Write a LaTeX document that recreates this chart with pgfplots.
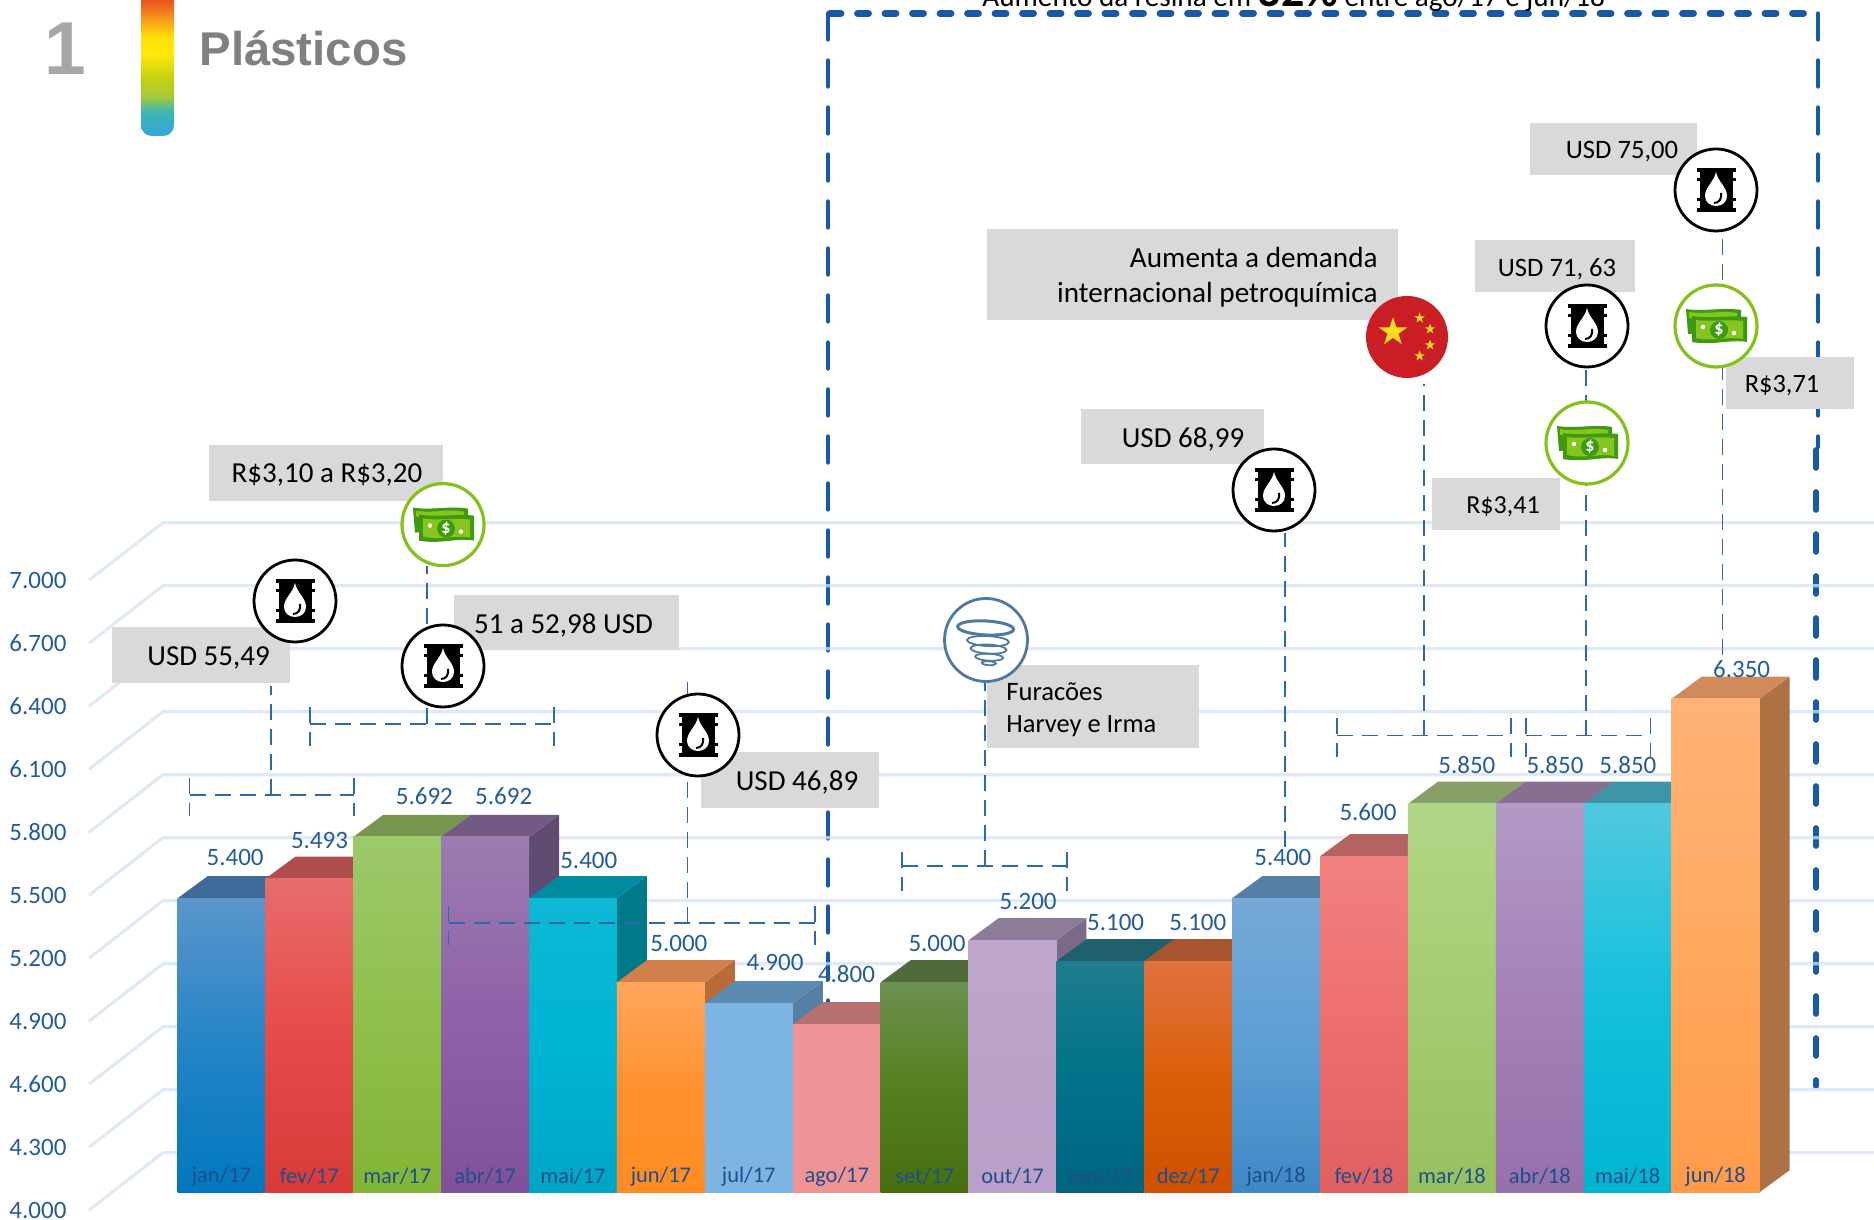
\documentclass[border=0pt]{standalone}
\usepackage{pgfplots}
\pgfplotsset{compat=1.18}
\usepackage{fontspec}
\setmainfont{Carlito}
\newfontfamily\arialf{Liberation Sans}
\usetikzlibrary{shapes.geometric}
\newcommand{\defbar}[6]{%
 \definecolor{c#1t}{HTML}{#2}\definecolor{c#1m}{HTML}{#3}\definecolor{c#1b}{HTML}{#4}%
 \definecolor{c#1f}{HTML}{#5}\definecolor{c#1s}{HTML}{#6}}
\defbar{0}{5A96CC}{2484C6}{0078BF}{3F6B99}{345A80}
\defbar{1}{E76C6C}{E54B49}{D93A38}{AD4D4D}{8F3F3F}
\defbar{2}{9CC96C}{8FC04C}{82B436}{76964F}{607B40}
\defbar{3}{9C7CB0}{8E61A8}{7F5199}{735A85}{604C73}
\defbar{4}{0DB8D4}{00B4D3}{00A5C5}{008CA0}{007A8A}
\defbar{5}{FFA65E}{FF9230}{FF8C21}{D37F4B}{B86A38}
\defbar{6}{7CB5E3}{7CB5E3}{7CB5E3}{5C8AB0}{557FA3}
\defbar{7}{EE9494}{EE9494}{EE9494}{B77070}{9A5E5E}
\defbar{8}{6C9052}{55801F}{466F10}{4E6B39}{425A30}
\defbar{9}{BEA6CC}{BAA2C9}{B8A0C8}{8C7C97}{7A6A88}
\defbar{10}{1E7C8E}{007388}{00647D}{1E616C}{1A545E}
\defbar{11}{E07240}{DA5F09}{CF5000}{A8552E}{904826}
\defbar{12}{76A9D7}{5D9FD5}{3F88C5}{567FA5}{486C8C}
\defbar{13}{F28080}{EE6E6E}{E05F5F}{B56262}{985252}
\defbar{14}{B2D688}{A5CC71}{98BF5F}{889F68}{738759}
\defbar{15}{B29AC5}{A581BA}{9570AA}{866F90}{725E7B}
\defbar{16}{50C9E0}{14C0DC}{00B4D0}{3E95A8}{34808F}
\defbar{17}{FFB377}{FFA95F}{FF9A4A}{D18A5C}{AD7145}
\definecolor{gridb}{HTML}{D5E3F3}
\definecolor{lblb}{HTML}{245C9A}
\definecolor{catb}{HTML}{1F4E8C}
\definecolor{bigdash}{HTML}{1559A8}
\definecolor{thindash}{HTML}{2E69B0}
\definecolor{grayb}{HTML}{D9D9D9}
\definecolor{moneyc}{HTML}{84C21A}
\definecolor{nted}{HTML}{3F9A12}
\definecolor{ntel}{HTML}{84C61E}
\definecolor{torn}{HTML}{4C7AA1}
\definecolor{chinar}{HTML}{C91E24}
\definecolor{chinay}{HTML}{FBDC1E}
\newcommand{\valfont}{\fontsize{12.5}{14}\selectfont}
\newcommand{\annfont}{\fontsize{14.5}{17}\selectfont}
% #1 id, #2 x centre, #3 value, #4 #5 label shift
\newcommand{\Bar}[5]{%
 \pgfmathsetmacro\xl{#2-43.95}\pgfmathsetmacro\xr{#2+43.95}%
 \pgfmathsetmacro\xL{#2-43.95+30}\pgfmathsetmacro\xR{#2+43.95+30}%
 \pgfmathsetmacro\vt{#3+105}\pgfmathsetmacro\bt{4000+105}%
 \addplot[draw=none,fill=c#1s,forget plot] coordinates {(\xr,4000) (\xR,\bt) (\xR,\vt) (\xr,#3)} -- cycle;
 \addplot[draw=none,fill=c#1f,forget plot] coordinates {(\xl,#3) (\xr,#3) (\xR,\vt) (\xL,\vt)} -- cycle;
 \addplot[ybar,bar shift=0pt,bar width=43.95pt,draw=none,top color=c#1t,bottom color=c#1b,middle color=c#1m,forget plot,
   nodes near coords,nodes near coords style={anchor=center,xshift=#4pt,yshift=#5pt,yshift=.6pt,text=lblb,font=\valfont}]
   coordinates {(#2,#3)};
}
\newcommand{\Grid}[1]{%
 \pgfmathsetmacro\gf{#1-85.7}\pgfmathsetmacro\gb{#1+188.6}%
 \addplot[gridb,line width=1.6pt,opacity=.75,forget plot] coordinates {(89,\gf) (163,\gb) (1874,\gb)};
}
\newcommand{\oil}[2]{\begin{scope}[shift={(#1,#2)}]
 \draw[black,fill=white,line width=1.4pt] (0,0) circle (41);
 \fill[black] (-19.5,-22) rectangle (19.5,-18);\fill[black] (-19.5,18) rectangle (19.5,22);
 \fill[black] (-16.5,-18) rectangle (16.5,18);
 \foreach \b in {-10,10}{\fill[black] (-19.5,\b-1.5) rectangle (19.5,\b+1.5);}
 \fill[white] (0,-18) .. controls (2,-8) and (11,-3) .. (11,6) .. controls (11,12) and (6,16) .. (0,16) .. controls (-6,16) and (-11,12) .. (-11,6) .. controls (-11,-3) and (-2,-8) .. cycle;
 \draw[black,line width=1pt] (5,3) .. controls (6,9) and (3,13) .. (-2,13);
\end{scope}}
\newcommand{\money}[2]{\begin{scope}[shift={(#1,#2)}]
 \draw[moneyc,fill=white,line width=1.6pt] (0,0) circle (41);
 \fill[nted] (-30,-17) .. controls (-12,-14) and (6,-19) .. (25,-16) -- (25,6) -- (-28,8) -- cycle;
 \fill[ntel] (-27,-14) .. controls (-12,-11) and (6,-16) .. (21,-13) -- (21,-9) -- (-27,-8) -- cycle;
 \fill[nted] (-24,-10) .. controls (-6,-7) and (14,-11) .. (31,-9) -- (31,16) .. controls (14,13) and (-4,20) .. (-24,16) -- cycle;
 \fill[ntel] (-20,-6) .. controls (-6,-4) and (14,-7) .. (27,-5) -- (27,13) .. controls (14,10) and (-4,16) .. (-20,12) -- cycle;
 \fill[nted] (3,4) circle (9);
 \fill[white] (-13,1) circle (2.2);\fill[white] (18,7) circle (2.2);
 \node[text=white,font=\bfseries\fontsize{9}{9}\selectfont,inner sep=0] at (3,4) {\$};
\end{scope}}
\definecolor{rbA}{HTML}{2FA8D8}\definecolor{rbB}{HTML}{40B5B0}\definecolor{rbC}{HTML}{A6C93A}\definecolor{rbD}{HTML}{C8D20F}\definecolor{rbE}{HTML}{FFE80A}\definecolor{rbF}{HTML}{FFE00A}\definecolor{rbG}{HTML}{F79A1B}\definecolor{rbH}{HTML}{E8501F}
\pgfdeclareverticalshading{rainbar}{100bp}{color(0bp)=(rbA);color(25bp)=(rbA);color(34bp)=(rbB);color(39.5bp)=(rbC);color(46.5bp)=(rbD);color(55bp)=(rbE);color(61bp)=(rbF);color(67.5bp)=(rbG);color(75bp)=(rbH);color(100bp)=(rbH)}
\begin{document}
\begin{tikzpicture}[x=1pt,y=1pt]
\path[use as bounding box] (0,0) rectangle (937,610);
% ---- large dashed frame, behind the chart
\begin{scope}[shift={(0,610)},x=.5pt,y=-.5pt]
 \draw[bigdash,line width=3.4pt,dash pattern=on 5.5pt off 8.25pt,line cap=round] (830,13.5) -- (1816,13.5);
 \draw[bigdash,line width=2.2pt,line cap=round,dash pattern=on 13pt off 10.5pt] (828,13.5) -- (828,1020);
 \draw[bigdash,line width=2.2pt,line cap=round,dash pattern=on 13pt off 10.5pt] (1818,13.5) -- (1818,447);
 \draw[bigdash,line width=2.8pt,line cap=round,dash pattern=on 9pt off 12pt] (1816,450) -- (1816,1086);
\end{scope}
\begin{axis}[at={(0,13.2)},anchor=south west,scale only axis,width=937pt,height=596pt,
 xmin=0,xmax=1874,ymin=4000,ymax=9676.19,clip=false,axis on top,
 axis line style={draw=none},tick style={draw=none},major tick length=0pt,
 ytick={4000,4300,4600,4900,5200,5500,5800,6100,6400,6700,7000},
 xtick={221.5,309.3,397.2,485.1,573,660.9,748.8,836.7,924.6,1012.5,1100.4,1188.2,1276.1,1364,1451.9,1539.8,1627.7,1715.6},
 xticklabels={jan/17,fev/17,mar/17,abr/17,mai/17,jun/17,jul/17,ago/17,set/17,out/17,nov/17,dez/17,jan/18,fev/18,mar/18,abr/18,mai/18,jun/18},
 /pgf/number format/.cd,1000 sep={.},fixed,assume math mode=true,/pgfplots/.cd,
 tick label style={font=\valfont},
 y tick label style={anchor=west,xshift=1.2pt,yshift=-9pt,text=lblb},
 x tick label style={anchor=center,yshift=8pt,text=catb,font=\fontsize{11.2}{13}\selectfont},
 tick align=inside,xticklabel shift=0pt,yticklabel shift=0pt,
 xtick pos=bottom,ytick pos=left,
]
\Grid{4000}\Grid{4300}\Grid{4600}\Grid{4900}\Grid{5200}\Grid{5500}\Grid{5800}\Grid{6100}\Grid{6400}\Grid{6700}\Grid{7000}
\Bar{0}{221.5}{5400}{6.8}{20}
\Bar{1}{309.3}{5493}{5.1}{18.5}
\Bar{2}{397.2}{5692}{13.6}{19.8}
\Bar{3}{485.1}{5692}{9.3}{19.8}
\Bar{4}{573}{5400}{7.9}{18.5}
\Bar{5}{660.9}{5000}{9}{19}
\Bar{6}{748.8}{4900}{13.1}{20}
\Bar{7}{836.7}{4800}{4.9}{24.5}
\Bar{8}{924.6}{5000}{6.2}{19}
\Bar{9}{1012.5}{5200}{7.8}{18.7}
\Bar{10}{1100.4}{5100}{7.6}{18.7}
\Bar{11}{1188.2}{5100}{4.8}{18.7}
\Bar{12}{1276.1}{5400}{3.4}{20}
\Bar{13}{1364}{5600}{2}{21.5}
\Bar{14}{1451.9}{5850}{7.5}{19}
\Bar{15}{1539.8}{5850}{7.6}{18.7}
\Bar{16}{1627.7}{5850}{0.1}{19}
\Bar{17}{1715.6}{6350}{13}{14.2}
\end{axis}
% ---- annotations, in pixel coordinates of the reference
\begin{scope}[shift={(0,610)},x=.5pt,y=-.5pt]
 % header
 \shade[shading=rainbar] (141,-1) -- (141,124) .. controls (141,132) and (146,136) .. (152,136) -- (163,136) .. controls (169,136) and (174,132) .. (174,124) -- (174,-1) -- cycle;
 \node[font=\arialf\bfseries\fontsize{37.5}{40}\selectfont,text=black!35,inner sep=0] at (65,49) {1};
 \node[font=\arialf\bfseries\fontsize{23.7}{26}\selectfont,text=black!50,inner sep=0,anchor=west] at (199,48) {Plásticos};
 \node[anchor=base west,inner sep=0,font=\fontsize{14.6}{17}\selectfont,text=black] at (982,6.5) {Aumento da resina em {\bfseries\fontsize{23}{23}\selectfont 32\%} entre ago/17 e jun/18};
 % thin dashed connectors and brackets
 \begin{scope}[thindash,line width=.8pt,dash pattern=on 8pt off 4.5pt]
  \draw (189.5,795) -- (354,795); \draw (189.5,778) -- (189.5,816); \draw (354,778) -- (354,816); \draw (271,795) -- (271,686);
  \draw (310,724) -- (554,724); \draw (310,707) -- (310,746); \draw (554,707) -- (554,746); \draw (427,724) -- (427,566);
  \draw (448.5,923) -- (815,923); \draw (448.5,906.5) -- (448.5,945); \draw (815,906.5) -- (815,945); \draw (687.6,923) -- (687.6,676);
  \draw (902,866) -- (1067,866); \draw (902,852) -- (902,891); \draw (1067,852) -- (1067,891); \draw (985,866) -- (985,680);
  \draw (1284.7,847) -- (1284.7,533);
  \draw (1337,735.7) -- (1511,735.7); \draw (1337,718) -- (1337,757); \draw (1511,718) -- (1511,757); \draw (1424,735.7) -- (1424,384);
  \draw (1526,735.7) -- (1650.4,735.7); \draw (1526,718) -- (1526,757); \draw (1650.4,718) -- (1650.4,757); \draw (1585.7,735.7) -- (1585.7,370);
  \draw (1722.4,655) -- (1722.4,235);
 \end{scope}
 % grey boxes
 \fill[grayb] (209,445) rectangle (443,501);
 \fill[grayb] (454,595) rectangle (679,650);
 \fill[grayb] (112,627) rectangle (290,683);
 \fill[grayb] (701,752) rectangle (879,808);
 \fill[grayb] (987,665) rectangle (1199,748.5);
 \fill[grayb] (1081,409) rectangle (1264,464);
 \fill[grayb] (987,229) rectangle (1398,320);
 \fill[grayb] (1530,123) rectangle (1697,175);
 \fill[grayb] (1475,240) rectangle (1635,292);
 \fill[grayb] (1432,478) rectangle (1560,530);
 \fill[grayb] (1726,357) rectangle (1854,409);
 % icons
 \oil{295}{601}\oil{443}{666}\oil{698}{735}\oil{1274}{490}\oil{1587}{326}\oil{1716}{190}
 \money{443}{524.6}\money{1587}{443}\money{1716}{326}
 \begin{scope}[shift={(1407,337)}]
  \fill[chinar] (0,0) circle (41);
  \node[star,star points=5,star point ratio=2.6,fill=chinay,inner sep=0,minimum size=15pt] at (-14,-5) {};
  \foreach \a/\b in {12.6/-19,23/-8,23/8,12.6/19}{\node[star,star points=5,star point ratio=2.6,fill=chinay,inner sep=0,minimum size=5.5pt] at (\a,\b) {};}
 \end{scope}
 \begin{scope}[shift={(986,640)}]
  \draw[torn,fill=white,line width=1.4pt] (0,0) circle (41.5);
  \draw[torn,line width=1.5pt,rotate=-3] (-1,-12) ellipse (28 and 7);
  \draw[torn,line width=.9pt,rotate=-3] (2,1) ellipse (21 and 5);
  \draw[torn,line width=.9pt,rotate=-3] (3,9) ellipse (18 and 4.5);
  \draw[torn,line width=.9pt,rotate=-3] (4,17) ellipse (14 and 3.5);
  \draw[torn,line width=.9pt,rotate=-3] (4,23) ellipse (7 and 2);
 \end{scope}
 % annotation text
 \begin{scope}[every node/.style={font=\annfont,text=black,inner sep=0}]
  \node at (327,475.4) {R\$3,10 a R\$3,20};
  \node at (563.5,625.4) {51 a 52,98 USD};
  \node at (208.6,658.4) {USD 55,49};
  \node at (797,782.4) {USD 46,89};
  \node at (1183,439) {USD 68,99};
  \node[anchor=east,font=\fontsize{14.6}{17}\selectfont] at (1378,257) {Aumenta a demanda};
  \node[anchor=east,font=\fontsize{14.6}{17}\selectfont] at (1378,295) {internacional petroquímica};
  \node[font=\fontsize{13.3}{16}\selectfont] at (1622,152) {USD 75,00};
  \node[font=\fontsize{13.3}{16}\selectfont] at (1557,269) {USD 71, 63};
  \node[font=\fontsize{13}{16}\selectfont] at (1503,507) {R\$3,41};
  \node[font=\fontsize{13.2}{16}\selectfont] at (1782,386) {R\$3,71};
  \node[anchor=west,font=\fontsize{13.3}{15}\selectfont] at (1006,692) {Furacões};
  \node[anchor=west,font=\fontsize{13.2}{15}\selectfont] at (1006,726) {Harvey e Irma};
 \end{scope}
\end{scope}
\end{tikzpicture}
\end{document}
